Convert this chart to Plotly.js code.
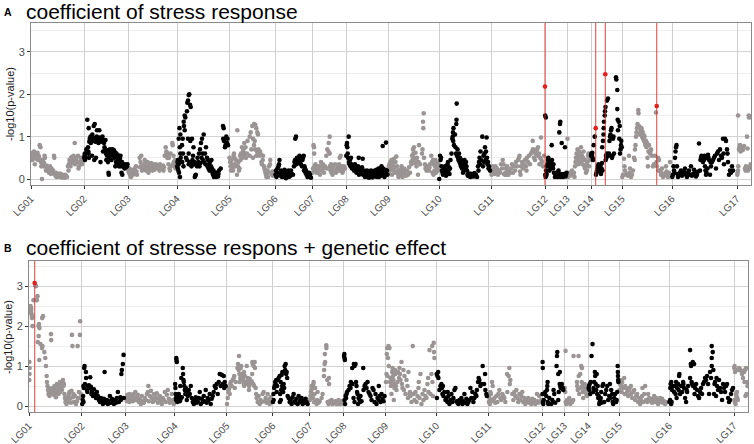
<!DOCTYPE html>
<html><head><meta charset="utf-8">
<script src="https://cdn.plot.ly/plotly-3.0.1.min.js"></script>
<style>html,body{margin:0;padding:0;background:#fff}#chart{width:754px;height:444px}</style>
</head><body><div id="chart"></div>
<script>
// Chromosomes (linkage groups) and their cumulative start positions
const chrNames = ['LG01','LG02','LG03','LG04','LG05','LG06','LG07','LG08','LG09','LG10','LG11','LG12','LG13','LG14','LG15','LG16','LG17'];
const chrStart = [0,53,97,146,198,244,281,315,357,408,460,514,536,560,591,641,706];
const genomeEnd = 720;

// ---------- Panel A: coefficient of stress response, [position in LG, -log10(p)] ----------
const A01 = [[0.3,0.5],[0.7,0.6],[1,0.55],[1.4,0.45],[1.8,0.62],[2.2,0.5],[2.6,0.58],[3,0.65],[3.4,0.52],[3.8,0.35],[4.2,0.55],[4.6,0.6],[5,0.48],[5.5,0.56],[6,0.5],[6.5,0.62],[7,0.45],[7.5,0.55],[8,0.52],[8.7,0.8],[9.5,0.75],[10,0.4],[10.3,0.3],[10.8,0.45],[11,0.0],[11.5,0.35],[12,0.42],[12.5,0.3],[13,0.38],[13.5,0.55],[14,0.5],[14.5,0.3],[15,0.2],[15.5,0.32],[16,0.25],[17,0.2],[17.5,0.28],[18,0.15],[18.5,0.22],[19,0.3],[19.5,0.18],[20,0.12],[20.5,0.25],[21,0.15],[22,0.2],[23,0.55],[23.3,0.5],[24,0.12],[24.5,0.08],[25,0.15],[25.5,0.05],[26,0.1],[26.5,0.12],[27,0.06],[27.5,0.1],[28,0.08],[28.5,0.13],[29,0.05],[29.5,0.08],[30,0.12],[30.5,0.04],[31,0.07],[31.5,0.1],[32,0.05],[32.5,0.09],[33,0.03],[33.5,0.06],[34,0.1],[34.5,0.04],[35,0.08],[36,0.05],[37,0.3],[37.5,0.2],[38,0.35],[38.5,0.45],[39,0.4],[39.5,0.3],[40,0.5],[40.5,0.38],[41,0.52],[41.5,0.45],[42,0.4],[42.5,0.55],[43,0.48],[43.7,0.85],[44,0.35],[44.5,0.5],[45,0.45],[46,0.52],[46.5,0.4],[47,0.55],[47.5,0.25],[48,0.3],[49,0.42],[49.5,0.38],[50,0.5],[51,0.35],[51.5,0.4],[52,0.45]];
const A02 = [[0.2,0.5],[0.5,0.55],[0.8,0.6],[1,0.45],[1.5,0.5],[2,0.6],[2.3,0.7],[2.7,0.62],[3.3,1.4],[4.7,1.2],[4,0.75],[4.3,0.65],[4.5,0.6],[5,0.5],[5.3,0.88],[5.7,0.95],[6,0.9],[6.5,1.0],[6.8,0.85],[7.5,0.92],[8,0.55],[8.3,1.05],[9.7,1.25],[10.7,1.3],[10.3,0.45],[9,0.98],[10,0.9],[11,0.95],[11.5,0.88],[12,0.5],[12.3,0.92],[12.8,1.0],[13,1.15],[13.5,0.9],[14,0.95],[14.5,0.85],[15,0.92],[15.3,1.15],[15.7,0.98],[16,0.9],[16.5,0.4],[17,0.88],[17.5,0.95],[18,0.92],[18.5,1.0],[19,0.65],[19.5,0.9],[20,0.85],[20.5,0.75],[21,0.7],[21.5,0.92],[22,0.6],[22.3,0.45],[22.7,0.65],[23,0.55],[23.5,0.68],[24,0.4],[24.5,0.15],[24.8,0.1],[25,0.62],[25.5,0.5],[26,0.7],[26.5,0.58],[27,0.65],[27.5,0.45],[28,0.6],[28.5,0.7],[29,0.55],[29.5,0.65],[30,0.68],[30.5,0.5],[31,0.6],[31.3,0.3],[31.7,0.62],[32,0.4],[32.5,0.55],[33,0.35],[33.5,0.58],[34,0.45],[34.5,0.52],[35,0.3],[35.5,0.4],[36,0.48],[36.5,0.55],[37,0.3],[37.5,0.15],[38,0.4],[38.3,0.1],[39,0.35],[39.5,0.3],[40,0.32],[40.5,0.25],[41,0.35],[41.5,0.3],[42,0.28],[42.5,0.33],[43,0.3],[43.5,0.35]];
const A03 = [[0.3,0.2],[1,0.15],[1.5,0.25],[2,0.1],[3,0.05],[3.5,0.18],[4,0.22],[5,0.1],[5.5,0.2],[6,0.15],[7,0.25],[8,0.3],[8.5,0.18],[9,0.1],[11.7,0.5],[13.3,0.55],[12.5,0.4],[13,0.3],[14,0.2],[12,0.28],[15,0.3],[15.5,0.22],[16.7,0.45],[16,0.35],[17,0.28],[17.5,0.38],[18,0.2],[18.5,0.32],[19,0.25],[19.5,0.4],[20,0.3],[20.5,0.15],[21,0.35],[21.5,0.28],[22,0.22],[22.5,0.32],[23,0.38],[23.5,0.25],[24,0.3],[24.5,0.2],[25,0.35],[25.5,0.28],[26,0.32],[26.5,0.22],[27,0.3],[27.5,0.25],[28,0.35],[28.5,0.3],[29,0.28],[30,0.32],[30.5,0.25],[31,0.3],[31.5,0.2],[32,0.35],[32.5,0.28],[33,0.3],[34,0.25],[35,0.32],[35.5,0.2],[36,0.28],[36.7,0.55],[37.7,0.75],[38.3,0.65],[39.3,0.5],[38,0.58],[39,0.62],[40,0.55],[40.5,0.35],[41,0.5],[41.5,0.25],[42,0.2],[42.5,0.6],[43,0.3],[44.3,0.85],[44.7,0.8],[45,0.35],[45.5,0.55],[46,0.4],[46.5,0.3],[47,0.45],[47.5,0.25],[48,0.35]];
const A04 = [[0.2,0.3],[0.5,0.4],[0.8,0.25],[1,0.45],[1.3,0.2],[1.6,0.35],[2,0.15],[2.3,0.38],[3,0.05],[2.7,0.42],[2.5,1.2],[3.3,1.05],[3.3,0.6],[1.7,0.95],[2.8,0.75],[3.7,0.5],[5,0.8],[5.7,0.95],[7.7,1.15],[7,1.25],[6.7,1.35],[7.7,1.5],[8.3,1.45],[6,0.6],[6.5,0.3],[5.3,0.4],[10,1.6],[10.3,1.8],[11.7,1.98],[12.3,2.0],[13,1.75],[13.7,1.7],[11,1.85],[11,0.95],[13.3,0.9],[11.7,0.35],[11.7,0.6],[9,0.5],[10,0.45],[12.5,0.4],[15,0.95],[14,0.4],[14.5,0.3],[15.5,0.45],[16,0.55],[16.5,0.75],[17,0.35],[17.5,0.4],[18.3,0.08],[17.8,0.05],[18.8,0.1],[20,0.3],[20.5,0.5],[21,0.35],[21.3,0.4],[22,0.6],[23,0.7],[24,0.85],[25,0.95],[26.7,1.05],[25.7,0.6],[26,0.45],[24.5,0.5],[22.5,0.3],[23.5,0.38],[27,0.4],[28,0.6],[29,0.75],[28.5,0.35],[30,0.5],[30.5,0.3],[31,0.45],[31.5,0.25],[32,0.35],[32.5,0.2],[33,0.4],[34,0.3],[34.5,0.45],[35,0.25],[35.5,0.15],[36,0.1],[36.5,0.2],[37,0.05],[37.5,0.1],[38,0.08],[38.5,0.12],[39,0.05],[39.5,0.15],[40,0.08],[40.5,0.1],[41,0.06],[41.5,0.12],[42,0.2],[43.7,0.25],[46,1.25],[46.7,1.2],[46.2,0.95],[49.3,1.0],[47,0.9],[48,0.75],[48.5,0.8],[50,0.85],[50.5,0.95],[51,0.8]];
const A05 = [[0.5,0.5],[1,0.4],[1.5,0.3],[2,0.2],[2.5,0.45],[3,0.35],[3.5,0.25],[4,0.2],[4.5,0.55],[5,0.6],[5.5,0.5],[6,0.35],[6.5,0.3],[7,0.45],[8,0.1],[8.3,1.15],[9,0.3],[9.5,0.4],[10,0.2],[10.5,0.25],[11,0.55],[11.5,0.45],[12,0.6],[13,0.75],[13.5,0.5],[14,0.65],[14.5,0.7],[15,0.55],[15.3,0.85],[16,0.6],[16.5,0.75],[17,0.5],[18,0.6],[18.5,0.9],[20.7,1.0],[21.7,1.1],[23.3,1.25],[25,1.3],[26.3,1.28],[27.3,1.2],[28.3,1.1],[29,1.05],[24,0.95],[25.7,0.9],[25,0.8],[22.3,0.7],[27.3,0.55],[29,0.6],[24,0.5],[20.7,0.55],[26,0.7],[28,0.65],[29.5,0.7],[30,0.6],[30.5,0.55],[31,0.65],[32,0.58],[32.5,0.4],[33.7,0.45],[33,0.35],[34,0.55],[35,0.3],[35.5,0.25],[36,0.2],[36.5,0.15],[37,0.1],[37.5,0.05],[38,0.12],[38.5,0.2],[39,0.05],[40,0.3],[41,0.35],[41.3,0.45],[42,0.15],[43,0.1],[43.5,0.18],[44,0.08],[45,0.12]];
const A06 = [[0.5,0.1],[1,0.2],[1.5,0.05],[2,0.15],[2.5,0.25],[3,0.1],[3.5,0.3],[4,0.35],[4.5,0.45],[5,0.12],[5.5,0.08],[6,0.2],[6.5,0.15],[7,0.05],[7.5,0.1],[8,0.18],[8.5,0.12],[9,0.05],[9.5,0.22],[10,0.08],[10.5,0.15],[11,0.02],[11.5,0.1],[12,0.18],[12.5,0.06],[13,0.12],[13.5,0.2],[14,0.05],[14.5,0.1],[15,0.15],[15.5,0.08],[16,0.2],[17,0.12],[18,0.1],[20.3,0.95],[21,1.0],[19,0.3],[19.5,0.4],[20,0.45],[21.5,0.35],[22,0.5],[22.5,0.42],[23,0.38],[23.5,0.5],[24,0.45],[24.5,0.55],[25,0.4],[25.5,0.48],[26,0.35],[26.5,0.52],[27,0.3],[28,0.5],[28.7,0.55],[27.5,0.45],[29,0.2],[29.5,0.3],[30,0.25],[30.5,0.15],[31,0.2],[31.5,0.1],[32,0.15],[32.5,0.05],[33,0.12],[33.5,0.08],[34,0.15],[34.5,0.05],[35,0.1],[36,0.03]];
const A07 = [[0.5,0.15],[1,0.25],[1.5,0.8],[2,0.75],[2.2,0.6],[2.5,0.3],[3,0.2],[3.5,0.35],[4,0.25],[4.5,0.15],[5,0.3],[5.5,0.2],[6,0.15],[6.5,0.25],[7,0.3],[8,0.1],[9,0.4],[9.5,0.2],[10,0.3],[11,0.35],[11.5,0.25],[12,0.15],[13,0.3],[14.3,0.55],[15.3,0.7],[16.7,0.85],[17.7,1.0],[17.7,0.6],[16.5,0.65],[15,0.25],[18,0.3],[18.5,0.2],[19,0.35],[19.5,0.15],[20,0.25],[20.5,0.1],[21,0.3],[22,0.2],[23,0.35],[24,0.15],[25,0.25],[26,0.3],[26.5,0.2],[27,0.35],[27.7,0.5],[28.7,0.55],[28,0.2],[29,0.25],[30,0.3],[30.5,0.15],[31,0.2],[32,0.3],[33,0.25]];
const A08 = [[0.3,0.55],[0.7,0.8],[1,0.85],[1.3,0.75],[2.7,1.0],[1.7,0.6],[2,0.5],[3,0.4],[3.5,0.35],[4,0.45],[4.5,0.3],[5,0.5],[5.5,0.35],[6,0.25],[7,0.3],[8,0.2],[9,0.35],[10,0.25],[10.5,0.15],[11,0.2],[12,0.3],[12.7,0.5],[13,0.1],[14,0.22],[15,0.15],[16,0.28],[16.7,0.48],[17,0.1],[18,0.2],[19,0.05],[20,0.15],[20.5,0.08],[21,0.2],[21.5,0.05],[22,0.12],[22.5,0.18],[23,0.03],[23.5,0.1],[24,0.15],[24.5,0.05],[25,0.2],[25.5,0.08],[26,0.12],[26.5,0.04],[27,0.18],[27.5,0.1],[28,0.06],[28.5,0.14],[29,0.2],[29.5,0.08],[30,0.12],[30.5,0.22],[31,0.05],[31.5,0.15],[32,0.1],[32.5,0.25],[33,0.05],[33.5,0.18],[34,0.12],[34.5,0.2],[35,0.08],[35.5,0.3],[36,0.15],[36.7,0.78],[37,0.25],[37.5,0.1],[38,0.2],[38.5,0.05],[39,0.15],[39.5,0.22],[40,0.86],[40.5,0.12],[41,0.2],[41.5,0.1]];
const A09 = [[0.5,0.15],[1,0.3],[1.5,0.35],[2,0.2],[2.5,0.4],[3,0.25],[3.5,0.45],[4,0.1],[4.5,0.3],[5,0.38],[5.5,0.2],[6,0.48],[6.5,0.28],[7,0.15],[7.5,0.4],[8.3,0.53],[9,0.3],[9.5,0.2],[10,0.12],[10.5,0.05],[11,0.15],[11.5,0.1],[12,0.22],[12.5,0.08],[13,0.18],[13.5,0.3],[14,0.12],[14.5,0.05],[15,0.2],[15.5,0.1],[16,0.25],[17,0.15],[18,0.08],[19,0.2],[20,0.1],[21,0.28],[22,0.15],[23,0.4],[23.5,0.35],[24,0.55],[24.5,0.45],[25,0.7],[25.5,0.6],[26,0.75],[26.5,0.5],[27,0.38],[27.5,0.62],[28,0.45],[28.5,0.3],[29,0.5],[30,0.1],[30.5,0.4],[31,0.8],[32,0.35],[35.7,1.55],[35,1.35],[35.3,1.2],[34.5,0.7],[34,0.6],[36,0.5],[37,0.35],[37.5,0.25],[38,0.3],[38.5,0.2],[39,0.28],[39.5,0.22],[40,0.25],[40.5,0.3],[41,0.2],[41.5,0.27],[42,0.35],[43.3,0.55],[44,0.4],[44.5,0.15],[45,0.45],[45.5,0.1],[46,0.35],[46.5,0.2],[47,0.3],[47.5,0.45],[48,0.15],[48.5,0.3],[49,0.38],[49.5,0.25],[50,0.2],[50.5,0.35]];
const A10 = [[0.2,0.0],[1,0.55],[1.5,0.45],[2,0.5],[2.5,0.3],[3,0.2],[3.5,0.15],[4,0.1],[4.5,0.25],[5,0.12],[5.5,0.18],[6,0.3],[6.5,0.22],[7,0.08],[7.5,0.1],[8,0.15],[8.5,0.35],[9,0.4],[9.5,0.2],[10,0.28],[10.5,0.12],[11,0.25],[11.5,0.45],[12.5,0.6],[13.3,0.95],[13.7,1.0],[14,1.1],[14.5,1.2],[14.2,0.9],[15,0.8],[17.3,1.3],[17.5,1.4],[17.7,1.78],[16,1.05],[16.5,0.75],[17,0.6],[18,0.55],[18.5,0.7],[19,0.5],[19.5,0.45],[20,0.6],[20.5,0.4],[21,0.5],[21.5,0.35],[22,0.3],[22.5,0.45],[23,0.25],[23.5,0.4],[24,0.15],[24.5,0.3],[25,0.2],[25.5,0.45],[26,0.35],[26.5,0.25],[27,0.4],[27.5,0.3],[28,0.2],[28.5,0.1],[29,0.08],[29.5,0.12],[30,0.07],[30.5,0.1],[31,0.13],[31.5,0.05],[32,0.09],[32.5,0.11],[33,0.07],[33.5,0.1],[34,0.12],[34.5,0.06],[35,0.09],[35.5,0.14],[36,0.08],[37,0.1],[38,0.05],[39,0.3],[39.5,0.2],[40,0.4],[40.5,0.5],[41,0.35],[41.5,0.65],[42,0.45],[43.3,1.0],[44,0.3],[44.5,0.55],[45,0.4],[45.5,0.6],[46,0.75],[46.5,0.45],[47.6,0.98],[47,0.65],[48,0.5],[48.5,0.35],[49,0.4],[49.5,0.25],[50,0.3],[51,0.2]];
const A11 = [[0.5,0.1],[1,0.2],[1.5,0.3],[2,0.15],[2.5,0.25],[3,0.2],[4,0.12],[4.5,0.3],[5,0.18],[6,0.25],[7,0.1],[8,0.2],[9,0.15],[10,0.35],[11,0.25],[11.7,0.45],[12.5,0.35],[13,0.12],[14,0.1],[14.5,0.15],[15,0.25],[15.5,0.1],[16,0.3],[16.5,0.2],[17,0.12],[17.5,0.1],[18,0.2],[19,0.15],[20,0.25],[21,0.35],[22,0.15],[23,0.3],[24,0.2],[25,0.4],[26,0.3],[27,0.45],[28,0.5],[28.5,0.55],[29,0.18],[29.5,0.1],[30,0.3],[31,0.4],[32,0.25],[33,0.35],[34,0.45],[35,0.3],[35.5,0.2],[36,0.5],[37,0.4],[38,0.55],[39,0.35],[40,0.6],[41,0.65],[41.7,0.9],[42,0.7],[43,0.5],[44,0.45],[44.5,0.6],[45,0.65],[46,0.7],[46.5,0.55],[47,0.75],[48,0.6],[48.5,0.35],[49,0.5],[50,0.98],[50.5,0.45],[51,0.4],[52,0.3],[53,0.55]];
const A12 = [[0.2,1.5],[0.8,1.45],[0.3,0.1],[0.6,0.05],[1,0.2],[1.3,0.08],[1.6,0.12],[2,0.3],[2.5,0.35],[3,0.45],[3.3,0.5],[3.7,0.4],[4,0.3],[4.5,0.2],[5,0.35],[5.5,0.25],[6,0.4],[6.7,0.8],[7,0.45],[7.5,0.3],[8,0.25],[8.5,0.35],[9,0.15],[10,0.05],[10.5,0.1],[11,0.12],[11.5,0.15],[12,0.08],[12.5,0.05],[13,0.1],[13.5,0.2],[14,0.13],[14.5,0.07],[15,0.1],[15.5,0.05],[16,0.12],[14.3,1.1],[15,1.3],[15.3,1.35],[16.7,0.85],[20,0.75],[17,0.1],[18,0.05],[18.5,0.08],[19,0.12],[20.5,0.06],[21,0.1],[21.5,0.15]];
const A13 = [[0.5,0.95],[1,0.05],[1.5,0.1],[2,0.15],[3,0.08],[4,0.12],[5,0.2],[6,0.1],[7,0.15],[7.5,0.05],[8,0.3],[8.5,0.4],[9,0.5],[9.5,0.6],[10,0.45],[10.5,0.7],[11,0.55],[11.5,0.35],[12,0.65],[12.5,0.5],[13,0.4],[13.5,0.6],[14,0.75],[14.5,0.45],[15,0.55],[15.5,0.35],[16,0.5],[16.5,0.65],[17,0.45],[17.5,0.3],[18,0.25],[18.5,0.45],[19,0.15],[19.5,0.35],[20,0.2],[20.5,0.4],[21,0.55],[21.5,0.6],[22,0.3],[22.5,0.5],[23,0.55],[23.5,0.45]];
const A14 = [[0.1,0.55],[0.4,0.6],[0.7,0.55],[1,0.58],[1.3,0.62],[1.6,0.5],[2,0.45],[2.7,0.8],[3.7,1.0],[5,0.1],[5.5,0.15],[6,0.2],[6.5,0.25],[7,0.3],[7.5,0.35],[8,0.22],[8.5,0.18],[9,0.28],[9.5,0.32],[10,0.12],[10.5,0.25],[11,0.38],[11.5,0.2],[11.2,0.75],[12,0.9],[12.5,1.05],[12.7,1.2],[13,1.35],[13.7,1.5],[14,1.6],[14.5,1.7],[16,1.85],[17,1.9],[14.7,0.45],[15,0.55],[15.5,0.5],[16,0.6],[17.5,0.55],[18,0.6],[18.5,0.9],[19,1.0],[19.5,1.05],[20,1.15],[20.5,1.2],[21,0.5],[21.5,0.55],[22,0.95],[22.5,1.0],[23,0.6],[25.3,2.35],[25,2.4],[26.3,2.1],[26.3,1.65],[26.7,1.4],[27,1.15],[27.7,1.35],[28.7,1.25],[28.3,0.95],[29,0.6],[29.5,0.7],[30,0.8],[30.3,0.9],[30.7,0.75]];
const A15 = [[0.3,0.05],[1,0.1],[2,0.48],[2.5,0.3],[3,0.2],[4,0.1],[5,0.12],[6,0.08],[7,0.55],[7.5,0.15],[8,0.25],[9,0.05],[10,0.1],[11,0.2],[12,0.5],[12.7,0.45],[13,0.7],[13.5,0.8],[14,1.0],[14.5,1.1],[15,1.2],[15.5,1.3],[16.3,1.63],[16.5,1.55],[17,1.25],[18,1.05],[18.5,1.1],[19,1.15],[19.5,1.2],[20,1.0],[20.5,1.12],[21,0.95],[21.5,1.05],[22,0.9],[22.5,1.0],[23,0.85],[23.5,0.8],[24,0.9],[24.5,0.75],[25,0.85],[25.5,0.5],[26,0.3],[26.5,0.65],[27,0.8],[28,0.6],[28.5,0.65],[29,0.7],[30,0.55],[34,1.57],[31,0.3],[32,0.35],[33,0.55],[34.5,0.4],[35,0.3],[36,0.5],[36.5,0.2],[37,0.45],[38,0.2],[39,0.1],[39.5,0.15],[40,0.25],[41,0.05],[42,0.08],[43,0.12],[44,0.3],[44.5,0.18],[45,0.1],[46,0.05],[47,0.15],[48,0.4],[49,0.1]];
const A16 = [[0.3,0.05],[1,0.1],[1.5,0.3],[2,0.2],[2.5,0.15],[3,0.5],[3.5,0.65],[4,0.75],[4.5,0.8],[5,0.3],[5.5,0.12],[6,0.05],[7,0.1],[8,0.15],[9,0.2],[10,0.08],[11,0.12],[12,0.18],[13,0.25],[14,0.1],[15,0.05],[16,0.15],[17,0.2],[18,0.1],[19,0.3],[20,0.08],[21,0.12],[22,0.22],[23,0.14],[24,0.06],[25,0.1],[26,0.18],[27,0.84],[28,0.2],[28.5,0.45],[29,0.5],[29.5,0.55],[30,0.52],[30.5,0.48],[31,0.4],[31.5,0.5],[32,0.45],[32.5,0.55],[33,0.3],[33.5,0.2],[34,0.1],[34.5,0.15],[35,0.5],[35.5,0.25],[36,0.57],[36.5,0.5],[37,0.45],[38,0.1],[38.5,0.4],[39,0.3],[40,0.4],[41,0.45],[42,0.5],[43,0.55],[44,0.25],[45,0.6],[46,0.65],[47,0.45],[48,0.7],[49,0.55],[50,0.5],[51,0.95],[51.5,0.6],[52,0.35],[53,0.95],[54,0.9],[55,0.7],[55.5,0.6],[56,0.4],[57,0.1],[58,0.2],[59,0.15],[60,0.3],[61,0.2]];
const A17 = [[0.3,0.1],[0.6,0.15],[1,0.2],[1.3,0.3],[1.1,1.5],[2,0.7],[2.5,0.75],[3,0.8],[3.5,0.65],[4,0.7],[4.5,0.72],[5,0.75],[5.5,0.68],[6,0.7],[7,0.78],[8,0.25],[8.5,0.2],[9,0.3],[10,1.0],[10.5,0.72],[11,0.2],[11.7,1.5],[12,1.45],[12.5,0.25],[13,1.48],[13.3,0.3],[13.7,0.35]];

// ---------- Panel B: stress response + genetic effect ----------
const B01 = [[0.3,0.65],[0.5,0.8],[0.4,1.1],[0.6,0.95],[1.5,2.5],[2.0,2.4],[2.5,2.3],[3.0,2.2],[3.5,2.0],[2.2,2.45],[1.8,2.35],[3.2,2.25],[4.5,2.65],[6.3,3.02],[7,3.0],[7.8,2.65],[8.5,2.75],[8.8,1.6],[9.5,2.0],[10,2.05],[10.5,1.95],[9.7,1.75],[10.3,1.15],[11.5,1.55],[13.5,1.5],[13,1.45],[13.2,2.2],[14,2.25],[15.3,1.35],[16.3,1.2],[17,1.0],[17.7,0.75],[18,0.6],[18.5,0.5],[19.5,0.3],[22,1.8],[22.2,1.65],[20,0.45],[21,0.35],[19,0.4],[20.5,0.25],[21.5,0.3],[22.5,0.42],[23,0.38],[23.5,0.3],[24,0.45],[24.5,0.35],[25,0.28],[25.5,0.5],[26,0.4],[26.5,0.32],[27,0.22],[27.5,0.45],[28,0.55],[28.5,0.38],[29,0.48],[29.5,0.3],[30,0.42],[30.5,0.5],[31,0.6],[31.5,0.35],[32,0.45],[32.5,0.52],[33,0.4],[33.5,0.6],[34,0.65],[34.5,0.5],[35,0.55],[35.5,0.3],[36,0.2],[36.5,0.1],[37,0.15],[37.5,0.05],[38,0.12],[38.5,0.2],[39,0.1],[39.5,0.25],[40,0.3],[40.5,0.35],[41,0.18],[42,0.08],[42.5,0.38],[43,1.78],[43.5,1.5],[44,0.22],[44.5,0.3],[45,0.1],[46,0.25],[47,0.05],[48,0.12],[48.7,1.5],[49,0.2],[50,0.35],[51,1.78],[51.2,2.12],[50.5,0.2],[52,0.3]];
const B02 = [[0.3,0.05],[0.8,0.15],[1.2,0.25],[1.6,0.1],[2.3,0.95],[2.6,1.0],[4,0.85],[1.5,0.5],[2,0.45],[3,0.55],[4.2,0.7],[8.3,0.72],[5,0.4],[6,0.5],[7,0.52],[5.5,0.35],[7.5,0.45],[9,0.48],[9.5,0.3],[10,0.38],[11,0.25],[12,0.42],[13,0.3],[14,0.2],[15,0.35],[16,0.25],[17,0.15],[18,0.1],[19,0.2],[20,0.12],[21,0.05],[22,0.18],[23,0.08],[22.7,0.85],[24,0.1],[25,0.15],[26,0.05],[27,0.12],[28,0.25],[29,0.08],[30,0.18],[31,0.1],[32,0.05],[33,0.15],[34,0.08],[35,0.2],[36,0.35],[37,0.1],[38.5,0.22],[39,0.15],[39.5,0.8],[40,0.9],[41,1.05],[41.7,1.28],[42,0.2]];
const B03 = [[0.5,0.2],[1,0.12],[1.5,0.28],[2,0.15],[3,0.22],[3.5,0.1],[4,0.3],[5,0.18],[6,0.25],[7,0.12],[8,0.3],[9,0.2],[9.5,0.35],[10,0.15],[11,0.22],[12,0.28],[13,0.1],[14,0.18],[15,0.05],[16,0.25],[17,0.12],[18,0.08],[19,0.2],[20,0.15],[21,0.3],[22,0.35],[22.5,0.5],[23,0.12],[24,0.25],[25,0.38],[26,0.2],[27,0.1],[28,0.3],[29,0.15],[30,0.22],[31,0.32],[32,0.08],[33,0.18],[34,0.25],[35,0.12],[36,0.05],[37,0.2],[38,0.15],[39,0.35],[40,0.1],[41,0.28],[42,0.4],[43,0.18],[44,0.08],[45,0.12],[46,0.3],[47,0.15],[48,0.05]];
const B04 = [[0.3,0.55],[0.6,0.45],[0.9,0.3],[1.1,0.2],[1.3,0.15],[1.5,1.2],[1.7,1.15],[2,1.1],[2.5,0.1],[3,0.2],[3.5,0.15],[4,0.3],[4.5,0.25],[5,0.12],[5.5,0.5],[6,0.18],[7,0.22],[6.5,0.7],[8,0.95],[8.3,0.8],[9,0.6],[8.7,0.65],[9.5,0.5],[10,0.4],[10.5,0.3],[11,0.45],[11.5,0.35],[12,0.15],[13,0.25],[14,0.4],[15,0.3],[16,0.5],[17,0.2],[18,0.1],[19,0.05],[20,0.15],[21,0.22],[22,0.08],[23,0.12],[24,0.2],[25,0.35],[26,0.05],[27,0.18],[28,0.1],[29,0.25],[30,0.12],[31,0.4],[32,0.08],[33,0.2],[34,0.15],[35,0.3],[36,0.05],[37,0.18],[38,0.25],[39,0.35],[40,0.5],[41,0.45],[42,0.55],[43,0.3],[44,0.6],[45,0.8],[46,0.5],[47,0.78],[48,0.55],[49,0.75],[49.5,0.45],[50,0.6],[51,0.5]];
const B05 = [[0.3,0.05],[1,0.2],[1.5,0.35],[2,0.4],[2.5,0.45],[3,0.3],[3.5,0.55],[4,0.6],[5,0.5],[6,0.65],[7,0.7],[7.5,0.75],[8,0.45],[9,0.6],[10.7,0.95],[11.3,1.05],[12.3,1.25],[12,0.9],[12.7,0.8],[13,0.6],[13.5,0.7],[14,0.95],[14.5,1.0],[15,0.8],[16,0.7],[16.5,0.65],[17,0.55],[17.5,0.5],[17.3,0.85],[20,1.0],[18,0.75],[19,0.6],[20.5,0.55],[21,0.7],[21.5,0.6],[22,0.65],[22.5,0.5],[22.3,0.4],[23,0.68],[24,0.58],[25,0.62],[25.7,1.1],[26,1.05],[27,1.0],[28,1.1],[28.3,0.95],[25.5,0.8],[26.5,0.55],[27.5,0.5],[29,0.45],[29.5,0.3],[30,0.2],[31,0.1],[32,0.25],[33,0.05],[34,0.15],[35,0.1],[36,0.3],[37,0.35],[38,0.12],[39,0.2],[40,0.08],[41,0.3],[42,0.15],[43,0.05],[44,0.22],[45,0.1]];
const B06 = [[0.3,0.1],[0.8,0.3],[1,0.15],[1.5,0.45],[2,0.5],[2.5,0.6],[3,0.55],[3.5,0.65],[4,0.35],[4.5,0.5],[5,0.65],[6,0.7],[7,0.75],[9.7,0.85],[12,1.0],[13,1.05],[12.5,0.9],[13.5,0.8],[14,0.85],[14.5,0.7],[11,0.55],[10,0.45],[8,0.6],[9,0.78],[7.5,0.3],[8.5,0.4],[9.5,0.5],[8.2,0.15],[7.2,0.1],[10.5,0.35],[11.5,0.45],[15,0.25],[16,0.2],[17,0.1],[18,0.15],[19,0.05],[20,0.22],[21,0.3],[22,0.12],[23,0.08],[24,0.18],[25,0.05],[26,0.25],[27,0.1],[28,0.15],[29,0.2],[30,0.05],[31,0.12],[32,0.08],[33,0.18],[34,0.1],[35,0.05]];
const B07 = [[0.3,0.15],[0.8,0.25],[1.2,0.35],[1.8,0.4],[2,0.5],[2.5,0.3],[3,0.45],[3.5,0.2],[3.8,0.55],[4,0.6],[4.5,0.1],[5,0.3],[5.5,0.45],[6,0.1],[7,0.05],[7.5,0.15],[8,0.35],[9,0.08],[10,0.12],[14.3,0.75],[14.5,0.9],[15,1.05],[15.5,1.1],[15.3,1.3],[16.7,1.52],[16.8,1.45],[17.7,0.65],[19.3,0.7],[19.5,0.55],[12,0.2],[13,0.3],[18,0.1],[19,0.05],[20,0.12],[21,0.08],[22,0.15],[23,0.05],[24,0.1],[25,0.08],[26,0.12],[27,0.05],[28,0.1],[29,0.15],[30,0.05],[31,0.08],[32,0.12],[33,0.06]];
const B08 = [[0.5,1.25],[0.8,1.3],[1,1.2],[1.3,1.15],[1,0.15],[1.5,0.05],[2,0.25],[3,0.3],[3.5,0.35],[2.5,0.2],[5,0.4],[6,0.5],[7.3,0.6],[8.7,0.95],[10.3,1.05],[12,1.05],[11,1.0],[10,0.2],[11,0.1],[7,0.45],[9,0.55],[12.5,0.6],[13,0.5],[13.5,0.35],[14,0.3],[15,0.2],[16,0.15],[17,0.25],[19.7,0.95],[14.5,0.05],[16.5,0.1],[18,0.12],[20,0.4],[21,0.5],[22,0.55],[23,0.45],[24,0.6],[25,0.35],[26,0.3],[27,0.25],[28,0.15],[29,0.45],[30,0.4],[31,0.1],[32,0.3],[33,0.05],[34,0.2],[35,0.15],[35.3,0.5],[36,0.25],[37,0.1],[38,0.3],[39,0.18],[40,0.12],[41,0.25]];
const B09 = [[0.5,0.6],[1,0.8],[1.3,1.3],[1.7,1.45],[2,0.75],[2.5,1.2],[3,1.5],[3.3,1.0],[4,1.45],[4.5,0.6],[5,0.7],[5.5,0.5],[6,0.3],[6.5,0.6],[6.7,0.85],[7,0.95],[7.5,0.75],[8,0.65],[8.5,0.55],[9,0.45],[9.5,0.9],[10,0.8],[10.5,0.5],[11,0.4],[8.3,0.15],[12,0.6],[12.5,0.85],[13.5,0.7],[14,0.95],[14.5,0.8],[15,0.65],[16,1.1],[16.5,0.55],[17,0.45],[18,0.9],[18.5,0.4],[19,0.75],[20,0.3],[21,0.65],[22,0.5],[23,0.85],[24,0.3],[22.5,0.2],[24.5,0.35],[25,0.25],[26,0.1],[27.3,1.5],[28,0.3],[29,0.15],[30,0.35],[31,0.1],[32,0.25],[33,0.45],[33.3,0.6],[34,0.2],[35,0.8],[36,0.05],[37,0.3],[38,0.15],[39,0.4],[40,0.25],[41,0.2],[42,0.55],[42.7,0.7],[43,0.35],[44,1.4],[46,0.8],[46.7,1.5],[47,0.6],[48.3,1.58],[48.5,1.35],[49,1.2],[45,0.3],[47.5,0.25]];
const B10 = [[0.3,0.8],[1,0.75],[2,0.7],[1.7,0.85],[0.5,0.2],[3,0.4],[4,0.5],[5,0.55],[5.5,0.45],[6,0.3],[7,0.25],[8,0.35],[6.5,0.5],[9,0.15],[10,0.2],[11,0.1],[11.3,0.35],[12,0.25],[13,0.05],[14,0.15],[15,0.3],[16,0.1],[17,0.2],[18,0.4],[19,0.45],[20,0.12],[21,0.08],[22,0.05],[23,0.15],[24,0.1],[25,0.2],[26,0.05],[28,0.3],[27,0.12],[29,0.08],[30,0.18],[31,0.05],[32,0.1],[33,0.15],[34,0.45],[35,0.2],[36,0.35],[37,0.1],[38,0.2],[39,0.3],[40,0.25],[40.5,0.4],[41.7,0.6],[42.3,0.7],[43,0.65],[44,0.5],[45,0.55],[46.3,1.0],[48.7,0.8],[47.7,0.55],[49,0.4],[50,0.3],[50.5,0.25]];
const B11 = [[0.5,0.1],[1,0.2],[1.5,0.05],[2,0.35],[2.5,0.3],[3,0.15],[3.7,0.6],[4.3,0.5],[5,0.12],[6,0.2],[7,0.08],[8,0.25],[9,0.1],[10,0.3],[11,0.4],[12,0.2],[13,0.15],[14,0.3],[15,0.25],[18.7,0.8],[20.3,0.75],[21,0.95],[22,0.65],[21.5,0.55],[17,0.1],[16,0.2],[19,0.35],[24,0.3],[25,0.15],[26,0.35],[27,0.25],[28,0.4],[29,0.2],[30,0.1],[31,0.3],[32,0.15],[33,0.25],[34,0.35],[35,0.1],[36,0.2],[37,0.05],[38,0.15],[39,0.1],[40,0.2],[41,0.08],[42,0.12],[43,0.05],[44,0.18],[45,0.1],[46,0.15],[47,0.05],[48.7,0.3],[49,0.12],[50,0.08],[51,0.25],[52,0.1],[53,0.15]];
const B12 = [[0.3,1.1],[0.5,0.95],[0.2,0.3],[0.7,0.1],[1,0.05],[1.5,0.15],[2,0.3],[3,0.35],[4,0.25],[5,0.5],[5.3,0.6],[4.7,0.4],[5.5,0.1],[6,0.05],[7,0.2],[9,0.05],[10,0.15],[11,0.1],[11.3,0.4],[12,0.3],[13,0.08],[14.3,1.0],[15,1.35],[14.7,1.25],[16,0.8],[17.6,0.85],[17.4,0.55],[18,0.5],[18.5,0.45],[16.5,0.35],[16,0.15],[19,0.5],[19.5,0.55],[20.5,0.45],[21,0.4]];
const B13 = [[0.5,0.45],[1,0.35],[1.3,1.38],[1.5,0.1],[2,0.05],[3,0.15],[4,0.1],[5,0.2],[6,0.05],[7,0.12],[8,0.1],[9,0.15],[9.3,1.25],[14.3,1.25],[12.7,0.6],[13,0.5],[13.5,0.4],[14.5,0.75],[16,0.8],[17.7,0.95],[17,1.0],[15,0.3],[16.5,0.45],[17.5,0.6],[18,0.5],[18.5,0.35],[19,0.2],[20,0.45],[20.5,0.55],[21,0.4],[22,0.3],[23,0.25]];
const B14 = [[0.3,0.45],[0.6,0.5],[1,0.4],[1.5,0.55],[2,0.3],[2.5,0.6],[4.3,1.55],[3.3,1.25],[5,0.35],[5.3,0.45],[6,0.6],[6.7,0.85],[7,0.75],[7.5,0.55],[8,0.4],[9,0.3],[10,0.2],[8.5,0.8],[9.5,0.5],[10.5,0.25],[11,0.05],[11.5,0.1],[12,0.15],[12.5,0.2],[13,0.35],[14.3,0.5],[15,0.55],[13.5,0.08],[16,0.1],[17,0.3],[18,0.4],[19,0.5],[21.7,0.55],[20,0.15],[21,0.25],[22,0.2],[23,0.4],[24,0.3],[24.5,0.1],[25,0.05],[29.5,1.0],[29.7,0.85],[29.8,0.75],[30,0.65],[30.2,0.6],[29,0.35],[28,0.1],[28.5,0.15],[26,0.2],[27,0.3]];
const B15 = [[0.3,0.4],[0.8,0.55],[1.5,0.65],[2,0.5],[2.5,0.35],[3,0.6],[4,0.45],[5,0.7],[6,0.5],[5.5,0.3],[7,0.45],[8,0.35],[9,0.25],[10,0.4],[10.5,0.45],[11.7,0.5],[12,0.3],[13,0.2],[14,0.35],[15,0.4],[16,0.15],[17,0.25],[18,0.3],[19,0.1],[20,0.2],[21,0.05],[22,0.15],[23,0.25],[23.3,0.45],[24,0.1],[25,0.3],[26,0.5],[27,0.15],[28,0.1],[29,0.3],[30,0.2],[31,0.12],[32,0.18],[33,0.08],[34,0.15],[35,0.25],[36,0.1],[37,0.2],[38,0.12],[39,0.05],[40,0.15],[41,0.2],[42,0.1],[43,0.18],[44,0.08],[45,0.12],[46,0.05],[47,0.1]];
const B16 = [[0.3,0.1],[1,0.15],[2,0.05],[2.5,0.1],[1.2,0.45],[1.5,0.55],[2.2,0.6],[3,0.4],[3.5,0.5],[6,0.5],[7,0.6],[10.3,0.8],[10,0.75],[9,0.55],[5,0.35],[6.5,0.3],[8,0.45],[9.5,0.4],[7.5,0.2],[11,0.3],[12,0.5],[13,0.35],[14,0.6],[14.3,0.55],[15,0.45],[16,0.2],[17,0.1],[17.5,0.4],[18,0.35],[19,0.5],[21,1.4],[21.7,1.05],[22,1.0],[23.7,1.1],[25,1.05],[21,0.7],[22.5,0.6],[23,0.55],[24,0.5],[25.5,0.3],[26,0.45],[27,0.55],[28,0.4],[29,0.25],[30,0.2],[31,0.35],[32,0.45],[33,0.3],[34,0.55],[35,0.6],[36,0.7],[37,0.65],[38,0.75],[39,0.55],[40,0.3],[41,0.85],[42.7,1.0],[42.7,1.2],[42.7,1.5],[43.7,1.35],[44.3,0.9],[42,0.7],[45,0.3],[45.5,0.55],[46,0.6],[47,0.25],[47.5,0.7],[48,0.5],[49,0.4],[50,0.65],[51,0.45],[52,0.35],[53,0.15],[54,0.55],[55,0.45],[56,0.35],[57,0.5],[58,0.55],[59,0.2],[60,0.1],[61,0.15],[62,0.3],[63,0.4],[64,0.45]];
const B17 = [[0.3,0.95],[0.6,1.0],[1,0.85],[1.2,0.9],[0.5,0.15],[0.8,0.1],[1.5,0.05],[2,0.3],[2.5,0.25],[3,0.35],[3.3,0.2],[3.8,0.15],[4,0.9],[5,0.95],[6,0.92],[8,0.8],[7,0.88],[9,0.7],[10,0.85],[11,0.9],[12,0.95],[13.5,0.5],[12.5,0.3],[13,0.6],[11.5,0.25],[10.5,0.6]];

// Significant hits (red): linkage group index, position in LG, -log10(p)
const hitsA_chr = [11,13,13,14];
const hitsA_pos = [0,4.7,14.3,34.7];
const hitsA_val = [2.18,1.2,2.47,1.72];
const hitsB_chr = [0];
const hitsB_pos = [5.7];
const hitsB_val = [3.08];

const panelA = [A01,A02,A03,A04,A05,A06,A07,A08,A09,A10,A11,A12,A13,A14,A15,A16,A17];
const panelB = [B01,B02,B03,B04,B05,B06,B07,B08,B09,B10,B11,B12,B13,B14,B15,B16,B17];

const GREY = '#9b9494', BLACK = '#000000', RED = '#e41a1c';
const W = 754, H = 444;

function panelTraces(lists, xa, ya) {
  const g = {x:[],y:[]}, b = {x:[],y:[]};
  lists.forEach((lst, i) => {
    const t = (i % 2 === 0) ? g : b;
    lst.forEach(p => { t.x.push(chrStart[i] + p[0]); t.y.push(p[1]); });
  });
  const mk = (t, c) => ({type:'scatter', mode:'markers', x:t.x, y:t.y, xaxis:xa, yaxis:ya,
    marker:{color:c, size:4.6, line:{width:0}}, hoverinfo:'skip'});
  return [mk(g, GREY), mk(b, BLACK)];
}
function hitTrace(chr, pos, val, xa, ya) {
  return {type:'scatter', mode:'markers', x:chr.map((c,k)=>chrStart[c]+pos[k]), y:val,
    xaxis:xa, yaxis:ya, marker:{color:RED, size:4.6}, hoverinfo:'skip'};
}
function hitLines(chr, pos, xa, ya) {
  return chr.map((c,k)=>({type:'line', xref:xa, yref:ya+' domain', x0:chrStart[c]+pos[k], x1:chrStart[c]+pos[k], y0:0, y1:1,
    line:{color:'rgba(228,40,30,0.8)', width:1.1}, layer:'above'}));
}

const data = [
  ...panelTraces(panelA, 'x', 'y'), hitTrace(hitsA_chr, hitsA_pos, hitsA_val, 'x', 'y'),
  ...panelTraces(panelB, 'x2', 'y2'), hitTrace(hitsB_chr, hitsB_pos, hitsB_val, 'x2', 'y2')
];

const xCommon = {range:[0, genomeEnd], tickvals:chrStart, ticktext:chrNames, tickangle:-45,
  ticks:'outside', ticklen:3, tickcolor:'#333', tickfont:{size:10, color:'#4d4d4d'},
  showgrid:true, gridcolor:'#cfcfcf', gridwidth:1, zeroline:false,
  showline:true, mirror:true, linecolor:'#8a8a8a', linewidth:1, fixedrange:true};
const yCommon = {tickvals:[0,1,2,3], ticks:'outside', ticklen:3, tickcolor:'#333',
  tickfont:{size:11, color:'#4d4d4d'}, showgrid:true, gridcolor:'#d3d3d3', gridwidth:1,
  minor:{tickvals:[0.5,1.5,2.5,3.5], showgrid:true, gridcolor:'#eeeeee', gridwidth:1, ticks:''},
  zeroline:false, showline:true, mirror:true, linecolor:'#8a8a8a', linewidth:1, fixedrange:true};

const px = v => v / W, py = v => 1 - v / H;

const layout = {
  width:W, height:H, margin:{l:0,r:0,t:0,b:0}, paper_bgcolor:'#fff', plot_bgcolor:'#fff',
  showlegend:false, font:{family:'"Liberation Sans", Arial, sans-serif', color:'#000'},
  xaxis:Object.assign({}, xCommon, {domain:[px(31), px(751)], anchor:'y'}),
  yaxis:Object.assign({}, yCommon, {domain:[py(185), py(23)], range:[-0.14, 3.68], anchor:'x'}),
  xaxis2:Object.assign({}, xCommon, {domain:[px(29), px(748)], anchor:'y2'}),
  yaxis2:Object.assign({}, yCommon, {domain:[py(412), py(261)], range:[-0.15, 3.63], anchor:'x2'}),
  shapes:[...hitLines(hitsA_chr, hitsA_pos, 'x', 'y'), ...hitLines(hitsB_chr, hitsB_pos, 'x2', 'y2')],
  annotations:[
    {text:'<b>A</b>', xref:'paper', yref:'paper', x:px(8), y:py(12), xanchor:'center', yanchor:'middle', showarrow:false, font:{size:10.5}},
    {text:'coefficient of stress response', xref:'paper', yref:'paper', x:px(24), y:py(12), xanchor:'left', yanchor:'middle', showarrow:false, font:{size:21}},
    {text:'<b>B</b>', xref:'paper', yref:'paper', x:px(8), y:py(248), xanchor:'center', yanchor:'middle', showarrow:false, font:{size:10.5}},
    {text:'coefficient of stresse respons + genetic effect', xref:'paper', yref:'paper', x:px(24), y:py(248), xanchor:'left', yanchor:'middle', showarrow:false, font:{size:21}},
    {text:'-log10(p-value)', xref:'paper', yref:'paper', x:px(10), y:py(104), textangle:-90, xanchor:'center', yanchor:'middle', showarrow:false, font:{size:11, color:'#1a1a1a'}},
    {text:'-log10(p-value)', xref:'paper', yref:'paper', x:px(8), y:py(337), textangle:-90, xanchor:'center', yanchor:'middle', showarrow:false, font:{size:11, color:'#1a1a1a'}}
  ]
};

Plotly.newPlot('chart', data, layout, {staticPlot:true, displayModeBar:false});
</script>
</body></html>
